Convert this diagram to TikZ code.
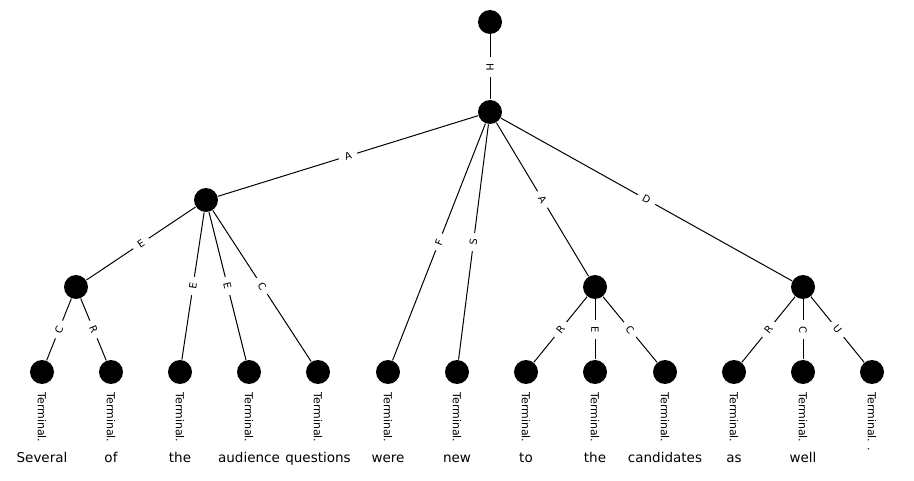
\documentclass[tikz,border=0pt]{standalone}
\usepackage{fontspec}
\setmainfont{DejaVu Sans}
\usetikzlibrary{shapes}

\begin{document}
\begin{tikzpicture}[-,x=1pt,y=-1pt,line width=1pt]
\tikzstyle{tok}=[circle,fill=black,minimum size=24pt,inner sep=0pt]
\tikzstyle{elab}=[fill=white,sloped,inner xsep=6pt,inner ysep=2pt,font=\fontsize{10}{11}\selectfont]
\tikzstyle{term}=[rotate=-90,anchor=west,inner sep=0pt,font=\fontsize{11}{13}\selectfont]
\tikzstyle{word}=[anchor=base,inner sep=0pt,font=\fontsize{13.5}{16}\selectfont]
\useasboundingbox (0,0) rectangle (914,481);
\node[tok] (top) at (490,22) {};
\node[tok] (h) at (490,112) {};
\node[tok] (a) at (206,200) {};
\node[tok] (e) at (76,287) {};
\node[tok] (r) at (595,287) {};
\node[tok] (d) at (803,287) {};
% leaves
\node[tok] (l1) at (42,372) {};
\node[tok] (l2) at (111,372) {};
\node[tok] (l3) at (180,372) {};
\node[tok] (l4) at (249,372) {};
\node[tok] (l5) at (318,372) {};
\node[tok] (l6) at (388,372) {};
\node[tok] (l7) at (457,372) {};
\node[tok] (l8) at (526,372) {};
\node[tok] (l9) at (595,372) {};
\node[tok] (l10) at (665,372) {};
\node[tok] (l11) at (734,372) {};
\node[tok] (l12) at (803,372) {};
\node[tok] (l13) at (872,372) {};
\path (top) edge node[elab]{H} (h)
      (h) edge node[elab]{A} (a)
          edge node[elab]{F} (l6)
          edge node[elab]{S} (l7)
          edge node[elab]{A} (r)
          edge node[elab]{D} (d)
      (a) edge node[elab]{E} (e)
          edge node[elab]{E} (l3)
          edge node[elab]{E} (l4)
          edge node[elab]{C} (l5)
      (e) edge node[elab]{C} (l1)
          edge node[elab]{R} (l2)
      (r) edge node[elab]{R} (l8)
          edge node[elab]{E} (l9)
          edge node[elab]{C} (l10)
      (d) edge node[elab]{R} (l11)
          edge node[elab]{C} (l12)
          edge node[elab]{U} (l13);
% terminal tags and words
\node[term] (t1) at (42,392) {Terminal.};
\node[term] (t2) at (111,392) {Terminal.};
\node[term] (t3) at (180,392) {Terminal.};
\node[term] (t4) at (249,392) {Terminal.};
\node[term] (t5) at (318,392) {Terminal.};
\node[term] (t6) at (388,392) {Terminal.};
\node[term] (t7) at (457,392) {Terminal.};
\node[term] (t8) at (526,392) {Terminal.};
\node[term] (t9) at (595,392) {Terminal.};
\node[term] (t10) at (665,392) {Terminal.};
\node[term] (t11) at (734,392) {Terminal.};
\node[term] (t12) at (803,392) {Terminal.};
\node[term] (t13) at (872,392) {Terminal. .};
\node[word] (w1) at (42,462) {Several};
\node[word] (w2) at (111,462) {of};
\node[word] (w3) at (180,462) {the};
\node[word] (w4) at (249,462) {audience};
\node[word] (w5) at (318,462) {questions};
\node[word] (w6) at (388,462) {were};
\node[word] (w7) at (457,462) {new};
\node[word] (w8) at (526,462) {to};
\node[word] (w9) at (595,462) {the};
\node[word] (w10) at (665,462) {candidates};
\node[word] (w11) at (734,462) {as};
\node[word] (w12) at (803,462) {well};
\end{tikzpicture}
\end{document}
